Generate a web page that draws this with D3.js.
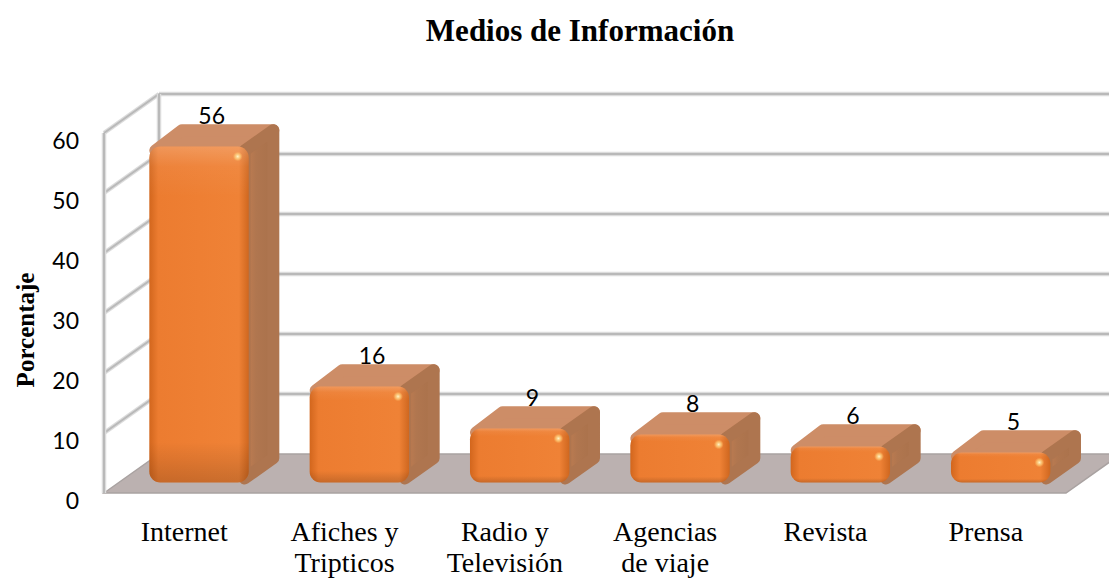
<!DOCTYPE html>
<html>
<head>
<meta charset="utf-8">
<script src="https://cdn.jsdelivr.net/npm/d3@7"></script>
<style>
  body { margin: 0; background: #fff; }
</style>
</head>
<body>
<div id="chart"></div>
<script>
// chart data
const categories = ["Internet", "Afiches y\nTripticos", "Radio y\nTelevisión", "Agencias\nde viaje", "Revista", "Prensa"];
const values = [56, 16, 9, 8, 6, 5];
const yTicks = [0, 10, 20, 30, 40, 50, 60];

const W = 1109, H = 580;
const depth = { dx: 55, dy: -39 };   // offset of the back wall
const z0 = 0.27, z1 = 0.79;          // bar depth inside the box

const svg = d3.select("#chart")
    .append("svg")
    .attr("width", W)
    .attr("height", H);

const x = d3.scaleBand()
    .domain(categories)
    .range([104, 1066])
    .paddingInner(0.38)
    .paddingOuter(0.19);
const y = d3.scaleLinear().domain([0, 60]).range([493, 133]);

const P = (px, py, z) => [px + z * depth.dx, py + z * depth.dy];

// gradients
const defs = svg.append("defs");
const fg = defs.append("linearGradient").attr("id", "frontGrad");
[["0%", "#d2661d"], ["9%", "#ec7c30"], ["50%", "#ee7f33"], ["90%", "#ef8236"], ["100%", "#cf671f"]]
    .forEach(s => fg.append("stop").attr("offset", s[0]).attr("stop-color", s[1]));
const vg = defs.append("linearGradient").attr("id", "frontShade").attr("x1", 0).attr("x2", 0).attr("y1", 0).attr("y2", 1);
[["0%", "#ffffff", 0.2], ["6%", "#ffffff", 0.05], ["15%", "#ffffff", 0], ["88%", "#000000", 0], ["100%", "#000000", 0.16]]
    .forEach(s => vg.append("stop").attr("offset", s[0]).attr("stop-color", s[1]).attr("stop-opacity", s[2]));
const sg = defs.append("linearGradient").attr("id", "sideGrad");
[["0%", "#c27e52"], ["40%", "#b0764f"], ["100%", "#a9714b"]]
    .forEach(s => sg.append("stop").attr("offset", s[0]).attr("stop-color", s[1]));
const hg = defs.append("radialGradient").attr("id", "hiGrad");
[["0%", "#fff6c8", 1], ["60%", "#ffd27a", 0.6], ["100%", "#ffb060", 0]]
    .forEach(s => hg.append("stop").attr("offset", s[0]).attr("stop-color", s[1]).attr("stop-opacity", s[2]));

// box: floor, walls and gridlines
const box = svg.append("g");
const x0 = x.range()[0], x1 = x.range()[1];

box.append("polygon")
    .attr("points", [P(x0, y(0), 0), P(x0, y(0), 1), P(x1, y(0), 1), P(x1, y(0), 0)].join(" "))
    .attr("fill", "#bbb1b0")
    .attr("stroke", "#a9a2a1")
    .attr("stroke-width", 1.5);

function gridLine(a, b) {
    box.append("line")
        .attr("x1", a[0]).attr("y1", a[1]).attr("x2", b[0]).attr("y2", b[1])
        .attr("stroke", "#dcdcdc").attr("stroke-width", 4.5);
    box.append("line")
        .attr("x1", a[0]).attr("y1", a[1]).attr("x2", b[0]).attr("y2", b[1])
        .attr("stroke", "#b9b9b9").attr("stroke-width", 2);
}

yTicks.filter(t => t > 0).forEach(t => {
    const back = P(x0, y(t), 1);
    gridLine(back, [W + 20, back[1]]);
    gridLine(P(x0, y(t), 0), back);
});
gridLine([x0, y(0)], [x0, y(60)]);
gridLine(P(x0, y(0), 1), P(x0, y(60), 1));

// bars
const bw = x.bandwidth();
const ddx = (z1 - z0) * depth.dx, ddy = (z1 - z0) * depth.dy;
const r = 4;

const bars = svg.append("g").selectAll("g")
    .data(categories.map((c, i) => ({ cat: c, value: values[i] })))
    .enter().append("g");

bars.each(function (d) {
    const g = d3.select(this);
    const bx0 = x(d.cat) + z0 * depth.dx;
    const bx1 = bx0 + bw;
    const bBot = y(0) + z0 * depth.dy;
    const bTop = y(d.value) + z0 * depth.dy;

    // top face
    g.append("polygon")
        .attr("points", [[bx0 + r + 2, bTop + r], [bx1 - r, bTop + r],
            [bx1 + ddx - r, bTop + ddy + r], [bx0 + ddx + r, bTop + ddy + r]].join(" "))
        .attr("fill", "#cd8d67")
        .attr("stroke", "#cd8d67")
        .attr("stroke-width", 2 * r + 4)
        .attr("stroke-linejoin", "round");

    // side face
    g.append("polygon")
        .attr("points", [[bx1 - r, bTop + r], [bx1 + ddx - r, bTop + ddy + r],
            [bx1 + ddx - r, bBot + ddy - r], [bx1 - r, bBot - r]].join(" "))
        .attr("fill", "url(#sideGrad)")
        .attr("stroke", "#ae754f")
        .attr("stroke-width", 2 * r + 4)
        .attr("stroke-linejoin", "round");

    // front face
    g.append("rect")
        .attr("x", bx0).attr("y", bTop)
        .attr("width", bw).attr("height", bBot - bTop)
        .attr("rx", 11)
        .attr("fill", "url(#frontGrad)");
    g.append("rect")
        .attr("x", bx0).attr("y", bTop)
        .attr("width", bw).attr("height", bBot - bTop)
        .attr("rx", 11)
        .attr("fill", "url(#frontShade)");

    // highlight
    g.append("circle")
        .attr("cx", bx1 - 11).attr("cy", bTop + 10)
        .attr("r", 5)
        .attr("fill", "url(#hiGrad)");

    // data label
    g.append("text")
        .attr("x", x(d.cat) + bw / 2 + 0.5 * depth.dx)
        .attr("y", y(d.value) + z1 * depth.dy - 2)
        .attr("text-anchor", "middle")
        .style("font-family", "Lato, 'Open Sans', sans-serif")
        .style("font-size", "23px")
        .attr("fill", "#000")
        .text(d.value);
});

// y tick labels
svg.append("g").selectAll("text")
    .data(yTicks)
    .enter().append("text")
    .attr("x", 79)
    .attr("y", d => y(d) + 8)
    .attr("dy", "0.35em")
    .attr("text-anchor", "end")
    .style("font-family", "Lato, 'Open Sans', sans-serif")
    .style("font-size", "23px")
    .attr("fill", "#000")
    .text(d => d);

// category labels
const catLabels = svg.append("g").selectAll("text")
    .data(categories)
    .enter().append("text")
    .attr("x", d => x(d) + bw / 2)
    .attr("y", y(0) + 48)
    .attr("text-anchor", "middle")
    .style("font-family", "'Liberation Serif', 'Times New Roman', serif")
    .style("font-size", "28px")
    .attr("fill", "#000");
catLabels.each(function (d) {
    d.split("\n").forEach((line, i) => {
        d3.select(this).append("tspan")
            .attr("x", x(d) + bw / 2)
            .attr("dy", i === 0 ? 0 : 31)
            .text(line);
    });
});

// title
svg.append("text")
    .attr("x", 580)
    .attr("y", 41)
    .attr("text-anchor", "middle")
    .style("font-family", "'Liberation Serif', 'Times New Roman', serif")
    .style("font-size", "31px")
    .style("font-weight", "bold")
    .text("Medios de Información");

// y axis title
svg.append("text")
    .attr("transform", "translate(34,330) rotate(-90)")
    .attr("text-anchor", "middle")
    .style("font-family", "'Liberation Serif', 'Times New Roman', serif")
    .style("font-size", "25px")
    .style("font-weight", "bold")
    .text("Porcentaje");
</script>
</body>
</html>
